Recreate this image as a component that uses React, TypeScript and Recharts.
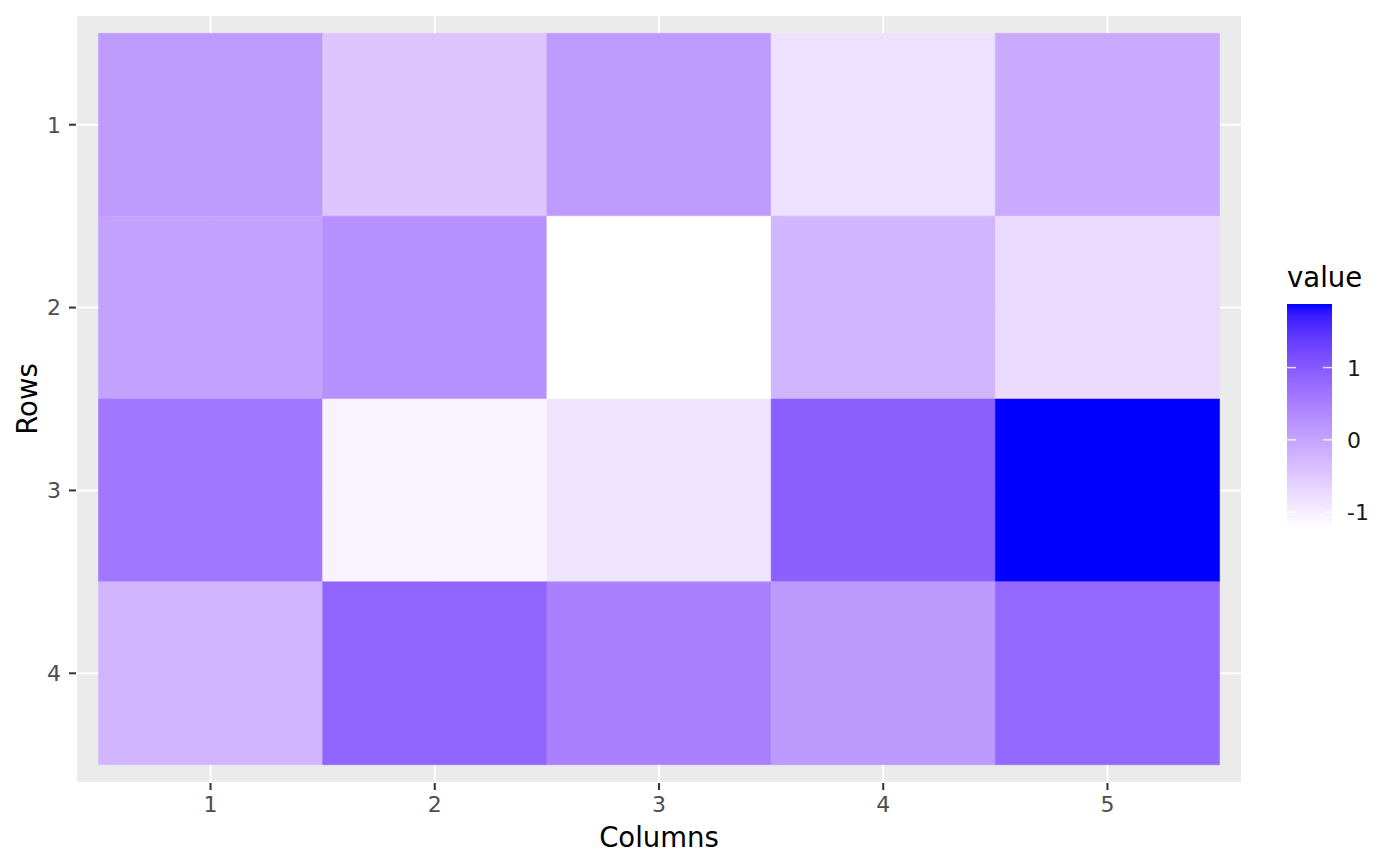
import React from 'react';
import { ScatterChart, Scatter, XAxis, YAxis, CartesianGrid, ReferenceArea, Label } from 'recharts';

const columns = [1, 2, 3, 4, 5];
const rows = [1, 2, 3, 4];
const row1 = [0.12, -0.47, 0.12, -0.82, -0.09];
const row2 = [0.02, 0.25, -1.22, -0.24, -0.76];
const row3 = [0.6, -1.06, -0.88, 0.92, 1.88];
const row4 = [-0.24, 0.86, 0.48, 0.13, 0.8];
const rowValues = [row1, row2, row3, row4];
const legendTicks = [-1, 0, 1];

const FONT = '"DejaVu Sans", Verdana, sans-serif';

type Cell = { col: number; row: number; value: number };
const cells: Cell[] = [];
rows.forEach((r, ri) => {
  columns.forEach((c, ci) => {
    cells.push({ col: c, row: r, value: rowValues[ri][ci] });
  });
});

const allValues = cells.map((d) => d.value);
const vMin = Math.min(...allValues);
const vMax = Math.max(...allValues);

// --- Lab colour interpolation (like ggplot2 scale_fill_gradient) ---
const toLin = (c: number) => {
  const v = c / 255;
  return v <= 0.04045 ? v / 12.92 : Math.pow((v + 0.055) / 1.055, 2.4);
};
const fromLin = (v: number) => {
  const c = v <= 0.0031308 ? 12.92 * v : 1.055 * Math.pow(v, 1 / 2.4) - 0.055;
  return Math.max(0, Math.min(255, Math.round(c * 255)));
};
const Xn = 0.95047, Yn = 1.0, Zn = 1.08883;
const fLab = (t: number) => (t > 216 / 24389 ? Math.cbrt(t) : (24389 / 27 * t + 16) / 116);
const fInv = (t: number) => (t * t * t > 216 / 24389 ? t * t * t : (116 * t - 16) / (24389 / 27));
function rgbToLab(r: number, g: number, b: number) {
  const R = toLin(r), G = toLin(g), B = toLin(b);
  const X = 0.4124564 * R + 0.3575761 * G + 0.1804375 * B;
  const Y = 0.2126729 * R + 0.7151522 * G + 0.072175 * B;
  const Z = 0.0193339 * R + 0.119192 * G + 0.9503041 * B;
  const fx = fLab(X / Xn), fy = fLab(Y / Yn), fz = fLab(Z / Zn);
  return [116 * fy - 16, 500 * (fx - fy), 200 * (fy - fz)];
}
function labToHex(L: number, a: number, bb: number) {
  const fy = (L + 16) / 116;
  const fx = fy + a / 500;
  const fz = fy - bb / 200;
  const X = Xn * fInv(fx), Y = Yn * fInv(fy), Z = Zn * fInv(fz);
  const R = 3.2404542 * X - 1.5371385 * Y - 0.4985314 * Z;
  const G = -0.969266 * X + 1.8760108 * Y + 0.041556 * Z;
  const B = 0.0556434 * X - 0.2040259 * Y + 1.0572252 * Z;
  const h = (n: number) => fromLin(n).toString(16).padStart(2, '0');
  return '#' + h(R) + h(G) + h(B);
}
const labLow = rgbToLab(255, 255, 255);
const labHigh = rgbToLab(0, 0, 255);
function fillColor(v: number) {
  const t = Math.max(0, Math.min(1, (v - vMin) / (vMax - vMin)));
  return labToHex(
    labLow[0] + (labHigh[0] - labLow[0]) * t,
    labLow[1] + (labHigh[1] - labLow[1]) * t,
    labLow[2] + (labHigh[2] - labLow[2]) * t
  );
}

// legend geometry
const barX = 1287;
const barY = 304;
const barW = 45;
const barH = 224;
const gradStops = Array.from({ length: 41 }, (_, i) => i / 40);
const legendY = (v: number) => barY + barH - ((v - vMin) / (vMax - vMin)) * barH;

function ColorBar() {
  return (
    <svg
      width={1400}
      height={866}
      style={{ position: 'absolute', left: 0, top: 0, pointerEvents: 'none' }}
    >
      <defs>
        <linearGradient id="fillGrad" x1="0" y1="1" x2="0" y2="0">
          {gradStops.map((s) => (
            <stop key={s} offset={s} stopColor={fillColor(vMin + s * (vMax - vMin))} />
          ))}
        </linearGradient>
      </defs>
      <text x={barX} y={287} fontFamily={FONT} fontSize={27.5} fill="#000">
        value
      </text>
      <rect x={barX} y={barY} width={barW} height={barH} fill="url(#fillGrad)" />
      {legendTicks.map((t) => (
        <g key={t}>
          <line x1={barX} x2={barX + 9} y1={legendY(t)} y2={legendY(t)} stroke="#fff" strokeOpacity={0.8} strokeWidth={1.5} />
          <line x1={barX + barW - 9} x2={barX + barW} y1={legendY(t)} y2={legendY(t)} stroke="#fff" strokeOpacity={0.8} strokeWidth={1.5} />
          <text
            x={1347}
            y={legendY(t)}
            dy="0.36em"
            fontFamily={FONT}
            fontSize={22}
            fill="#1a1a1a"
          >
            {t}
          </text>
        </g>
      ))}
    </svg>
  );
}

export default function App() {
  return (
    <div style={{ position: 'absolute', left: 0, top: 0, width: 1400, height: 866, background: '#fff' }}>
      <ScatterChart
        width={1400}
        height={866}
        margin={{ top: 15, right: 158, bottom: 0, left: 0 }}
        style={{ fontFamily: FONT }}
      >
        <CartesianGrid
          fill="#EBEBEB"
          fillOpacity={1}
          stroke="#FFFFFF"
          strokeWidth={2}
        />
        <XAxis
          type="number"
          dataKey="col"
          domain={[0.4, 5.6]}
          ticks={columns}
          height={83}
          axisLine={false}
          tickLine={{ stroke: '#333333', strokeWidth: 2 }}
          tickSize={7}
          tickMargin={6}
          tick={{ fill: '#4D4D4D', fontSize: 22, fontFamily: FONT }}
          interval={0}
        >
          <Label
            value="Columns"
            position="insideBottom"
            offset={19}
            fill="#000"
            fontSize={27.5}
            fontFamily={FONT}
          />
        </XAxis>
        <YAxis
          type="number"
          dataKey="row"
          domain={[0.4, 4.6]}
          ticks={rows}
          reversed
          width={76}
          axisLine={false}
          tickLine={{ stroke: '#333333', strokeWidth: 2 }}
          tickSize={7}
          tickMargin={8}
          tick={{ fill: '#4D4D4D', fontSize: 22, fontFamily: FONT }}
          interval={0}
        >
          <Label
            value="Rows"
            angle={-90}
            position="insideLeft"
            offset={27}
            fill="#000"
            fontSize={27.5}
            fontFamily={FONT}
            style={{ textAnchor: 'middle' }}
          />
        </YAxis>
        {cells.map((d) => (
          <ReferenceArea
            key={`${d.row}-${d.col}`}
            x1={d.col - 0.5}
            x2={d.col + 0.5}
            y1={d.row - 0.5}
            y2={d.row + 0.5}
            fill={fillColor(d.value)}
            fillOpacity={1}
            stroke={fillColor(d.value)}
            strokeWidth={0.5}
            ifOverflow="visible"
          />
        ))}
        <Scatter
          data={cells}
          isAnimationActive={false}
          legendType="none"
          shape={() => <g />}
        />
      </ScatterChart>
      <ColorBar />
    </div>
  );
}
